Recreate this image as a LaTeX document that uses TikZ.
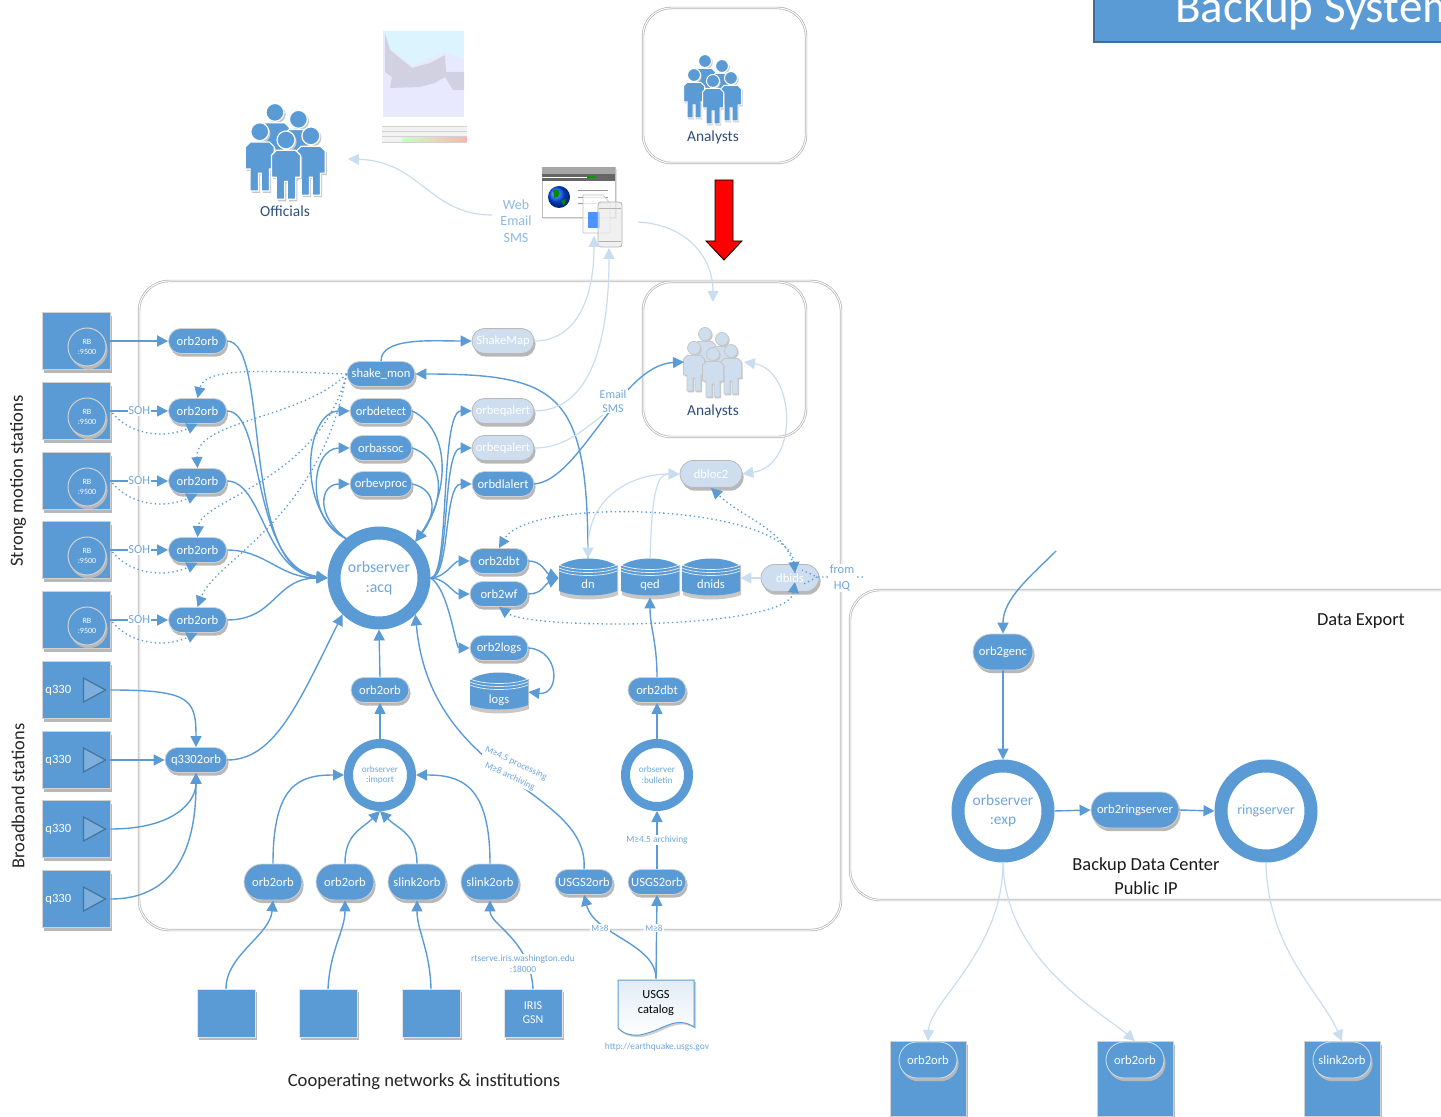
\documentclass[tikz,border=0pt]{standalone}
\usepackage{fontspec}
\setmainfont{Carlito}
\usepackage{tikz}
\usetikzlibrary{arrows.meta,shapes.misc,shadows}

\definecolor{orbblue}{HTML}{5B9BD5}
\definecolor{orbfade}{HTML}{CEDEEE}
\definecolor{orbpale}{HTML}{C9DDF0}
\definecolor{orbtext}{HTML}{6FA6DC}
\definecolor{orbnavy}{HTML}{2F4E79}

\newcommand{\orbfont}[1]{\fontsize{#1}{#1}\selectfont}
\newcommand{\personpath}{(0,0) circle[radius=6.5]
    (-7,7.5) -- (7,7.5) -- (10.5,11) -- (10.5,27) -- (7,27) -- (7,43) -- (1,43) -- (1,30)
    -- (-1,30) -- (-1,43) -- (-7,43) -- (-7,27) -- (-10.5,27) -- (-10.5,11) -- cycle}
% drum with its three rim lines
\newcommand{\orbdrum}[4]{
    \fill[black!22] (#2-28,#3-13) -- (#2-28,#3+17) .. controls (#2-15,#3+23) and (#2+15,#3+23) .. (#2+30,#3+17) -- (#2+30,#3-13) -- cycle;
    \fill[orbblue] (#2-29,#3-12) .. controls (#2-15,#3-22) and (#2+15,#3-22) .. (#2+29,#3-12) -- (#2+29,#3+13)
        .. controls (#2+15,#3+19) and (#2-15,#3+19) .. (#2-29,#3+13) -- cycle;
    \foreach \d in {0,3,6} {
        \draw[white!85!orbblue,line width=.35pt] (#2-29,#3-13+\d) .. controls (#2-15,#3-7+\d) and (#2+15,#3-7+\d) .. (#2+29,#3-13+\d);
    }
    \node[drumtext] (#1) at (#2,#3) {\raisebox{-5.5pt}{#4}};
}

\tikzset{
    orbshadow/.style={drop shadow={shadow xshift=.8pt,shadow yshift=-1.6pt,fill=black!28,opacity=1}},
    pill/.style={rounded rectangle,minimum width=#1,minimum height=12.5pt,inner sep=0pt,fill=orbblue,draw=black!18,line width=.4pt,
        text=white,font=\orbfont{6.3},orbshadow},
    pill/.default=29pt,
    fadepill/.style={pill=#1,fill=orbfade,draw=black!28},
    fadepill/.default=31pt,
    tall/.style={minimum height=18pt},
    ring/.style={circle,minimum size=#1,line width=6.5pt,draw=orbblue,fill=white,text=orbtext,align=center,font=\orbfont{7.9},orbshadow},
    smallring/.style={circle,minimum size=#1,line width=4.5pt,draw=orbblue,fill=white,text=orbtext,align=center,font=\orbfont{4.6},orbshadow},
    stabox/.style={rectangle,minimum width=34pt,minimum height=28.5pt,inner sep=0pt,fill=orbblue,draw=black!18,line width=.4pt,orbshadow},
    netbox/.style={rectangle,minimum width=29pt,minimum height=24pt,inner sep=0pt,fill=orbblue,text=white,align=center,font=\orbfont{6},
        draw=black!10,line width=.2pt,orbshadow},
    rbdisc/.style={circle,minimum size=19pt,inner sep=0pt,fill=orbblue,draw=black!18,line width=.5pt,text=white,align=center,
        font=\orbfont{4},orbshadow},
    drumtext/.style={rectangle,minimum width=29pt,minimum height=19pt,inner sep=0pt,text=white,font=\orbfont{6.3},text depth=0pt},
    panel/.style={draw=black!30,line width=.35pt,double=white,double distance=.5pt,rounded corners=#1},
    link/.style={draw=orbblue,line width=.7pt,-{Triangle[length=5.5pt,width=5.5pt]}},
    heavylink/.style={link,line width=.9pt},
    fadelink/.style={draw=orbpale,line width=.6pt,-{Triangle[length=5.5pt,width=5.5pt,fill=orbpale]}},
    fadeboth/.style={fadelink,{Triangle[length=5.5pt,width=5.5pt,fill=orbpale]}-{Triangle[length=5.5pt,width=5.5pt,fill=orbpale]}},
    dotlink/.style={draw=orbblue,line width=.65pt,dash pattern=on .7pt off 1.5pt,-{Triangle[length=5.5pt,width=5.5pt]}},
    dotboth/.style={dotlink,{Triangle[length=5.5pt,width=5.5pt]}-{Triangle[length=5.5pt,width=5.5pt]}},
    soh/.style={fill=white,inner sep=.3pt,text=orbtext,font=\orbfont{6.2}},
    tiny/.style={fill=white,inner sep=.5pt,text=orbtext,align=center,font=\orbfont{4.7}},
    sidelabel/.style={text=orbtext,align=center,font=\orbfont{6.6}},
    heading/.style={text=black!90,align=center,font=\orbfont{9.2}},
    crowdlabel/.style={text=orbnavy,font=\orbfont{7.7}},
    crowd/.pic={
        \foreach \px/\py in {-8/-20,9/-15,-19/-6,18/-3,0/0} {
            \fill[black!22,shift={(\px+1.2,\py+1.4)}] \personpath;
            \path[pic actions,shift={(\px,\py)}] \personpath;
        }
    },
}

\begin{document}
\begin{tikzpicture}[x=.5pt,y=-.5pt]
    \useasboundingbox (0,0) rectangle (1441,1117);
    \clip (0,0) rectangle (1441,1117);

    % Title
    \filldraw[fill=orbblue,draw=orbblue!70!black,line width=.8pt] (1094,-6) rectangle (1450,42);
    \node[anchor=base west,inner sep=0pt,text=white,font=\orbfont{23.5}] (title) at (1175,23) {Backup System};

    % Panels
    \draw[panel=15pt] (139,281) rectangle (841,930);
    \draw[panel=14pt,fill=white] (643,8) rectangle (806,163);
    \draw[panel=14pt,fill=white] (643,282) rectangle (806,437);
    \draw[panel=15pt] (850,590) rectangle (1480,900);

    % Map
    \fill[blue!9] (383,31) rectangle (464,117);
    \fill[cyan!14] (383,31) -- (464,31) -- (464,60) -- (445,52) -- (412,66) -- (390,48) -- cycle;
    \fill[blue!35!black!18] (385,33) -- (390,50) -- (412,68) -- (430,63) -- (445,55) -- (446,72) -- (464,72) -- (464,90) -- (453,90) -- (445,77)
        -- (435,83) -- (420,87) -- (390,88) -- (392,77) -- (385,72) -- cycle;
    \fill[black!5] (382,126) rectangle (467,142);
    \foreach \ty in {126,131,136,142} {
        \draw[black!18,line width=.2pt] (382,\ty) -- (467,\ty);
    }
    \fill[left color=green!22,right color=red!30] (402,138) rectangle (467,142);

    % Crowds
    \pic[fill=orbblue,draw=white,line width=.6pt,scale=1.38] (officials) at (286,140) {crowd};
    \node[crowdlabel] (officialstext) at (285,211) {Officials};
    \pic[fill=orbblue,draw=white,line width=.5pt] (analysts) at (713,81) {crowd};
    \node[crowdlabel] (analyststext) at (713,137) {Analysts};
    \pic[fill=orbfade,draw=black!22,line width=.4pt] (floor) at (713,354) {crowd};
    \node[crowdlabel] (floortext) at (713,411) {Analysts};

    % Red arrow
    \filldraw[fill=red,draw=black,line width=.4pt] (715,180) -- (733,180) -- (733,241) -- (742,241) -- (724,260) -- (706,241) -- (715,241) -- cycle;

    % Web / email / sms icons
    \fill[black!12] (543,169) rectangle (617,219);
    \filldraw[fill=white,draw=black!25,line width=.3pt] (542,167) rectangle (615,217);
    \fill[black!35] (542,167) rectangle (615,174);
    \fill[black!60] (542,174) rectangle (615,181);
    \draw[white,line width=.4pt] (542,177) -- (587,177);
    \draw[green!60!black,line width=.6pt] (587,177) -- (595,177);
    \shade[ball color=blue!70!cyan] (559,197) circle[radius=11];
    \fill[green!55!black] (553,190) .. controls (558,188) and (562,192) .. (558,197) -- (554,198) -- cycle;
    \fill[green!55!black] (561,201) -- (566,199) -- (564,206) -- cycle;
    \foreach \ly in {190,197,203} {
        \draw[black!40,line width=.3pt] (578,\ly) -- (608,\ly);
    }
    \filldraw[fill=white,fill opacity=.75,draw=black!25,line width=.3pt] (583,195) -- (603,195) -- (610,203) -- (610,233) -- (583,233) -- cycle;
    \fill[blue!60!cyan,opacity=.7] (588,212) rectangle (600,228);
    \filldraw[fill=black!8,fill opacity=.75,draw=black!30,line width=.4pt,rounded corners=1.5pt] (598,202) rectangle (622,247);
    \draw[black!30,line width=.3pt] (599,208) -- (621,208) (599,241) -- (621,241);
    \coordinate (docfoot) at (594,236);
    \coordinate (phonefoot) at (609,248);
    \coordinate (phoneside) at (638,222);
    \coordinate (webleft) at (492,215);
    \node[sidelabel,align=center,text=orbtext!80,font=\orbfont{7},text depth=0pt] (websms) at (516,221) {Web\\[1.1pt]Email\\[1.1pt]SMS};
    \coordinate (officialsfoot) at (348,159);
    \coordinate (floortop) at (713,302);
    \coordinate (floorleft) at (684,362);
    \coordinate (floorright) at (744,362);

    % Strong motion stations
    \foreach \i/\y in {1/341,2/411,3/481,4/550,5/620} {
        \node[stabox] (sta\i) at (76,\y) {};
        \node[rbdisc] (disc\i) at (87,\y+6) {RB\\[1pt]:9500};
        \node[pill] (orb\i) at (197.5,\y) {orb2orb};
    }
    \draw[heavylink] (sta1) -- (orb1);
    \foreach \i in {2,...,5} {
        \draw[link] (sta\i) -- node[soh] {SOH} (orb\i);
        \draw[dotlink] (sta\i.east) ++(2,2) .. controls +(20,24) and +(-30,14) .. (orb\i.south);
    }
    \node[rotate=90,text=black!85,font=\orbfont{9.3}] (strong) at (18,481) {Strong motion stations};
    \node[rotate=90,text=black!85,font=\orbfont{9.2}] (broad) at (18,796) {Broadband stations};

    % Broadband stations
    \foreach \i/\y in {1/690,2/760,3/829,4/899} {
        \node[stabox] (qbox\i) at (76,\y) {};
        \node[anchor=west,inner sep=0pt,text=white,font=\orbfont{6.3}] (qtext\i) at (45,\y) {q330};
        \filldraw[fill=white!20!orbblue,draw=orbblue!75!black,line width=.6pt] (83.5,\y-12) -- (105.5,\y) -- (83.5,\y+12) -- cycle;
    }
    \node[pill=31pt] (q330orb) at (196,760) {q3302orb};
    \draw[link] (qbox1.east) .. controls +(80,0) and +(0,-48) .. (q330orb.north);
    \draw[link] (qbox2.east) -- (q330orb.west);
    \draw[link] (qbox3.east) .. controls +(65,0) and +(0,28) .. (q330orb.south);
    \draw[link] (qbox4.east) .. controls +(80,0) and +(0,48) .. (q330orb.south);

    % Core
    \node[ring=45pt] (acq) at (379,578) {orbserver\\[2pt]:acq};
    \node[pill=34pt] (shake) at (381,374) {shake\_mon};
    \node[pill=31pt] (detect) at (381,411) {orbdetect};
    \node[pill=31pt] (assoc) at (381,448) {orbassoc};
    \node[pill=31pt] (evproc) at (381,484) {orbevproc};
    \node[fadepill] (shakemap) at (503,341) {ShakeMap};
    \node[fadepill] (alerta) at (503,411) {orbeqalert};
    \node[fadepill] (alertb) at (503,448) {orbeqalert};
    \node[pill=31pt] (dlalert) at (503,484) {orbdlalert};
    \node[pill] (dbt) at (499,561) {orb2dbt};
    \node[pill] (wf) at (499,594) {orb2wf};
    \node[pill] (orblogs) at (499,648) {orb2logs};
    \node[fadepill,minimum height=13.5pt] (dbloc) at (711,474) {dbloc2};
    \node[fadepill=29pt,minimum height=13.5pt] (dbids) at (790,578) {dbids};
    \orbdrum{dn}{588}{578}{dn}
    \orbdrum{qed}{650}{578}{qed}
    \orbdrum{dnids}{711}{578}{dnids}
    \orbdrum{logs}{499}{692}{logs}

    % Into acq
    \draw[link] (orb1.east) .. controls +(44,0) and +(-88,-7) .. (acq.west);
    \draw[link] (orb2.east) .. controls +(39,0) and +(-78,-12) .. (acq.west);
    \draw[link] (orb3.east) .. controls +(36,0) and +(-63,-5) .. (acq.west);
    \draw[link] (orb4.east) .. controls +(39,0) and +(-48,0) .. (acq.west);
    \draw[link] (orb5.east) .. controls +(49,0) and +(-53,0) .. (acq.west);
    \draw[link] (q330orb.east) .. controls +(48,0) and +(-43,86) .. (acq.225);

    % shake_mon dotted
    \draw[dotlink] (shake.west) .. controls (280,372) and (205,365) .. (orb2.north);
    \draw[dotlink] (shake.west) .. controls (300,420) and (195,420) .. (orb3.north);
    \draw[dotlink] (shake.west) .. controls (320,480) and (200,500) .. (orb4.north);
    \draw[dotlink] (shake.west) .. controls (320,520) and (215,560) .. (orb5.north);

    % Loop around the processes
    \draw[link] (acq.130) .. controls (295,510) and (305,411) .. (detect.west);
    \draw[link] (acq.130) .. controls (305,520) and (310,448) .. (assoc.west);
    \draw[link] (acq.130) .. controls (315,515) and (320,484) .. (evproc.west);
    \draw[link] (detect.east) .. controls +(38,19) and +(35,-51) .. (acq.45);
    \draw[link] (assoc.east) .. controls +(33,12) and +(30,-41) .. (acq.45);
    \draw[link] (evproc.east) .. controls +(26,6) and +(20,-26) .. (acq.45);

    % Out of acq
    \draw[link] (acq.east) .. controls +(20,0) and +(-32,0) .. (alerta.west);
    \draw[link] (acq.east) .. controls +(20,0) and +(-30,0) .. (alertb.west);
    \draw[link] (acq.east) .. controls +(20,0) and +(-28,0) .. (dlalert.west);
    \draw[link] (acq.east) .. controls +(15,0) and +(-16,0) .. (dbt.west);
    \draw[link] (acq.east) .. controls +(15,0) and +(-16,0) .. (wf.west);
    \draw[link] (acq.east) .. controls +(18,10) and +(-14,0) .. (orblogs.west);
    \draw[link] (dbt.east) .. controls +(14,0) and +(-14,-6) .. (dn.west);
    \draw[link] (wf.east) .. controls +(14,0) and +(-14,6) .. (dn.west);
    \draw[link] (orblogs.east) .. controls +(32,2) and +(32,4) .. (logs.east);
    \draw[link] (dn.north) .. controls +(0,-165) and +(145,0) .. (shake.east);
    \draw[link] (shake.north) .. controls +(0,-24) and +(-40,0) .. (shakemap.west);

    % Faded products
    \draw[fadelink] (shakemap.east) .. controls +(41,0) and +(0,64) .. (docfoot);
    \draw[fadelink] (alerta.east) .. controls +(56,0) and +(0,93) .. (phonefoot);
    \draw[draw=orbpale,line width=.6pt] (alertb.east) .. controls +(30,0) and +(-20,15) .. (603,415);
    \draw[fadelink] (webleft) .. controls +(-62,0) and +(72,2) .. (officialsfoot);
    \draw[fadelink] (phoneside) .. controls +(52,3) and +(0,-42) .. (floortop);
    \draw[link] (dlalert.east) .. controls +(46,-4) and +(-64,3) .. (floorleft);
    \node[sidelabel,fill=white,inner sep=.6pt,font=\orbfont{6}] (emailsms) at (613,401) {Email\\[1pt]SMS};
    \draw[fadeboth] (dbloc.east) .. controls +(58,-9) and +(51,8) .. (floorright);
    \draw[fadelink] (qed.north) .. controls +(2,-70) and +(-22,0) .. (dbloc.west);
    \draw[fadeboth] (dn.north) .. controls +(0,-60) and +(-50,0) .. (dbloc.west);
    \draw[fadelink] (dbids.west) -- (dnids.east);

    % Dotted exchange with dbids
    \coordinate (idstop) at (795,573);
    \coordinate (idsbot) at (795,582);
    \coordinate (idsfork) at (817,577);
    \coordinate (hqend) at (863,577);
    \draw[dotboth] (idstop) .. controls (788,505) and (530,495) .. (dbt.north);
    \draw[dotboth] (idsbot) .. controls (788,630) and (530,630) .. (wf.south);
    \draw[dotlink] (idstop) .. controls (790,530) and (745,520) .. (dbloc.south);
    \draw[dotlink,-] (hqend) -- (idsfork) -- (802,570) (idsfork) -- (802,585);
    \node[sidelabel,fill=white,inner sep=.5pt,font=\orbfont{6.2}] (fromhq) at (842,578) {from\\[1.5pt]HQ};

    % Imports
    \node[smallring=31.5pt] (import) at (380,775) {orbserver\\[.6pt]:import};
    \node[pill] (orbup) at (380,690) {orb2orb};
    \node[pill,tall] (orba) at (273,882) {orb2orb};
    \node[pill,tall] (orbb) at (345,882) {orb2orb};
    \node[pill,tall] (slinka) at (417,882) {slink2orb};
    \node[pill,tall] (slinkb) at (490,882) {slink2orb};
    \node[pill] (usgsa) at (584,882) {USGS2orb};
    \node[pill] (usgsb) at (657,882) {USGS2orb};
    \draw[link] (import.north) -- (orbup.south);
    \draw[link] (orbup.north) -- (acq.south);
    \draw[link] (orba.north) .. controls +(0,-80) and +(-44,0) .. (import.west);
    \draw[link] (orbb.north) .. controls +(0,-30) and +(-18,18) .. (import.south);
    \draw[link] (slinka.north) .. controls +(0,-30) and +(18,18) .. (import.south);
    \draw[link] (slinkb.north) .. controls +(0,-80) and +(44,0) .. (import.east);
    \draw[link] (usgsa.north) .. controls +(6,-80) and +(15,167) .. (acq.-45);
    \node[tiny,rotate=-25] (mproc) at (513,770) {M≥4.5 processing\\[2.5pt]M≥8 archiving};

    % Bulletin
    \node[smallring=31.5pt] (bulletin) at (657,775) {orbserver\\[.6pt]:bulletin};
    \node[pill] (dbtb) at (657,690) {orb2dbt};
    \draw[link] (usgsb.north) -- node[tiny,pos=.5] (march) {M≥4.5 archiving} (bulletin.south);
    \draw[link] (bulletin.north) -- (dbtb.south);
    \draw[link] (dbtb.north) .. controls +(0,-35) and +(0,30) .. (qed.south);

    % Cooperating networks
    \node[netbox] (neta) at (226,1013) {};
    \node[netbox] (netb) at (328,1013) {};
    \node[netbox] (netc) at (431,1013) {};
    \node[netbox] (iris) at (533,1013) {IRIS\\[1pt]GSN};
    \draw[link] (neta.north) .. controls +(0,-34) and +(-3,35) .. (orba.south);
    \draw[link] (netb.north) .. controls +(2,-39) and +(0,30) .. (orbb.south);
    \draw[link] (netc.north) .. controls +(-1,-39) and +(0,30) .. (slinka.south);
    \draw[link] (iris.north) .. controls +(-3,-50) and +(0,25) .. (slinkb.south);
    \node[tiny] (rtserve) at (523,964) {rtserve.iris.washington.edu\\[1pt]:18000};
    \node[text=black!85,font=\orbfont{9.3}] (coop) at (424,1082) {Cooperating networks \& institutions};

    % USGS catalog
    \fill[black!18] (620,982) -- (696,982) -- (696,1029) .. controls (677,1017) and (667,1032) .. (642,1037) .. controls (632,1038) and (624,1035) .. (620,1030) -- cycle;
    \draw[draw=orbblue,line width=.5pt,top color=orbpale!55,bottom color=white] (618,980) -- (694,980) -- (694,1027) .. controls (675,1015) and (665,1030) .. (640,1035)
        .. controls (630,1036) and (622,1033) .. (618,1028) -- cycle;
    \node[inner sep=0pt,minimum width=38pt,minimum height=24pt,align=center,text=black,font=\orbfont{6.2}] (catalog) at (656,1003) {USGS\\[1.5pt]catalog};
    \draw[link] (catalog.north) .. controls +(0,-35) and +(10,40) .. (usgsa.south);
    \draw[link] (catalog.north) -- (usgsb.south);
    \node[tiny,font=\orbfont{4.6}] (msa) at (600,928) {M≥8};
    \node[tiny,font=\orbfont{4.6}] (msb) at (654,928) {M≥8};
    \node[text=orbtext,font=\orbfont{4.7}] (usgsurl) at (657,1047) {http://earthquake.usgs.gov};

    % Data export
    \node[heading] (export) at (1361,621) {Data Export};
    \node[heading] (backup) at (1146,876) {Backup Data Center\\[2.5pt]Public IP};
    \node[pill=30pt,tall] (genc) at (1003,652) {orb2genc};
    \node[ring=45pt,font=\orbfont{7.7}] (exp) at (1003,811) {orbserver\\[2pt]:exp};
    \node[pill=44pt,tall] (ringlink) at (1135,810) {orb2ringserver};
    \node[ring=45pt,font=\orbfont{7}] (ring) at (1266,811) {ringserver};
    \coordinate (fromcore) at (1056,551);
    \draw[link] (fromcore) .. controls +(-25,25) and +(0,-35) .. (genc.north);
    \draw[link] (genc.south) -- (exp.north);
    \draw[link] (exp.east) -- (ringlink.west);
    \draw[link] (ringlink.east) -- (ring.west);

    % Downstream sites
    \foreach \n/\x/\lab in {a/928/orb2orb,b/1135/orb2orb,c/1342/slink2orb} {
        \node[rectangle,minimum width=38pt,minimum height=37.5pt,inner sep=0pt,fill=orbblue,draw=black!18,line width=.4pt,orbshadow] (site\n) at (\x,1079) {};
        \node[pill,draw=white!70!orbblue,tall] (sitepill\n) at (\x,1060) {\lab};
    }
    \draw[fadelink] (exp.south) .. controls +(0,88) and +(2,-40) .. (sitea.north);
    \draw[fadelink] (exp.south) .. controls +(2,98) and +(-35,-30) .. (siteb.north);
    \draw[fadelink] (ring.south) .. controls +(2,88) and +(-22,-50) .. (sitec.north);
\end{tikzpicture}
\end{document}
